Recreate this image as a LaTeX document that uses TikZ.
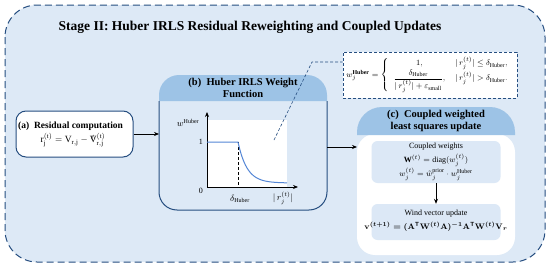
\documentclass[tikz,border=0pt]{standalone}
\usepackage{amsmath}
\usepackage{fontspec}
\setmainfont{Liberation Serif}
\usetikzlibrary{arrows.meta}
\definecolor{bgblue}{RGB}{221,233,246}
\definecolor{hdrblue}{RGB}{157,195,230}
\definecolor{edgeblue}{RGB}{38,78,128}
\definecolor{curveblue}{RGB}{84,134,214}
\definecolor{innerblue}{RGB}{220,232,246}
\begin{document}
\begin{tikzpicture}[x=1pt,y=-1pt,
  conn/.style={-{Stealth[length=5pt,width=4pt]},line width=0.7pt,black},
  abox/.style={draw=edgeblue,line width=1pt,fill=white,rounded corners=10pt,minimum width=117pt,minimum height=46pt,inner sep=0pt},
  hdrtext/.style={font=\fontsize{10.5}{11.5}\selectfont\bfseries,align=center,inner sep=0pt},
  smalltext/.style={font=\fontsize{8}{10}\selectfont,align=center,inner sep=0pt},
  innerbox/.style={fill=innerblue,rounded corners=6pt,minimum width=129pt,inner sep=0pt},
  ghost/.style={inner sep=0pt,outer sep=0pt}]
\useasboundingbox (0,0) rectangle (550,268);
% outer frame
\draw[edgeblue,line width=1pt,dash pattern=on 7pt off 4pt,fill=bgblue,rounded corners=32pt] (5,5) rectangle (545,262);
\node[font=\fontsize{13.5}{15}\selectfont\bfseries,inner sep=0pt] (title) at (250,27) {Stage II: Huber IRLS Residual Reweighting and Coupled Updates};
% box (a)
\node[abox] (a) at (74.5,134) {};
\node[font=\fontsize{9.5}{11}\selectfont\bfseries,inner sep=0pt,anchor=west] (alab) at (18,126) {(a)\ \ Residual computation};
\node[font=\fontsize{9.5}{11}\selectfont,inner sep=0pt] (aform) at (73,140) {$\mathrm{r_j^{(t)} = V_{r,j} - \hat{V}_{r,j}^{(t)}}$};
% box (b)
\node[ghost,minimum width=168pt,minimum height=135pt] (bbox) at (243,142.5) {};
\fill[hdrblue] (159,101) [rounded corners=20pt]-- (159,75) -- (327,75) [sharp corners]-- (327,101) -- cycle;
\draw[edgeblue,line width=1pt,rounded corners=18pt] (159,101) -- (159,210) -- (327,210) -- (327,101);
\node[hdrtext] (bhdr) at (243,88) {(b)\ \ Huber IRLS Weight\\Function};
% plot
\coordinate (o) at (207,187);
\fill[white] (207,120) rectangle (287,187);
\draw[-{Stealth[length=5pt,width=4pt]},line width=0.8pt] (o) -- (207,112);
\draw[-{Stealth[length=5pt,width=4pt]},line width=0.8pt] (o) -- (298,187);
\draw[densely dashed,line width=0.6pt] (238,142) -- (238,187);
\draw[curveblue,line width=1pt] (207,142) -- (238,142) -- plot[domain=238:287,samples=40,smooth] (\x,{183-41*exp(-(\x-238)/9)});
\node[smalltext,anchor=east] (one) at (203,142) {1};
\node[smalltext,anchor=east] (zero) at (203,191) {0};
\node[smalltext,font=\fontsize{9}{10}\selectfont] (wlab) at (188,123) {$w^{\mathrm{Huber}}$};
\node[smalltext,font=\fontsize{9}{10}\selectfont] (dlab) at (240,199) {$\delta_{\mathrm{Huber}}$};
\node[smalltext,font=\fontsize{9}{10}\selectfont] (rlab) at (283,198) {$|\,r_j^{(t)}|$};
% formula box
\node[draw=edgeblue,densely dashed,line width=0.6pt,fill=white,minimum width=174pt,minimum height=46pt,inner sep=0pt] (fbox) at (430,75) {};
\node[smalltext,font=\fontsize{8.5}{10}\selectfont] (form) at (430,75) {\renewcommand{\arraystretch}{1.25}$w_j^{\mathbf{Huber}} = \left\{\begin{array}{cl} 1, & |\,r_j^{(t)}| \le \delta_{\mathrm{Huber}}, \\ \dfrac{\delta_{\mathrm{Huber}}}{|\,r_j^{(t)}|+\varepsilon_{\mathrm{small}}}, & |\,r_j^{(t)}| > \delta_{\mathrm{Huber}}. \end{array}\right.$};
\coordinate (pt) at (274,140);
\coordinate (bend) at (312,62);
\draw[edgeblue,densely dashed,line width=0.6pt] (pt) -- (bend) -- (bend -| fbox.west);
% box (c)
\node[ghost,minimum width=158pt,minimum height=148pt] (cbox) at (436,181) {};
\fill[white,rounded corners=18pt] (357,134) -- (357,255) -- (515,255) -- (515,134) -- cycle;
\fill[hdrblue] (357,135) [rounded corners=25pt]-- (357,107) -- (515,107) [sharp corners]-- (515,135) -- cycle;
\node[hdrtext] (chdr) at (436,121) {(c)\ \ Coupled weighted\\least squares update};
\node[innerbox,minimum height=42pt] (cw) at (436,162) {};
\node[smalltext] (cw1) at (436,147) {Coupled weights};
\node[smalltext] (cw2) at (436,160) {$\mathbf{W}^{(t)} = \mathrm{diag}(w_j^{(t)})$};
\node[smalltext] (cw3) at (436,174) {$w_j^{(t)} = \tilde{w}_j^{\mathrm{prior}}\cdot w_j^{\mathrm{Huber}}$};
\node[innerbox,minimum height=36pt] (wv) at (436,222) {};
\node[smalltext] (wv1) at (436,214) {Wind vector update};
\node[smalltext] (wv2) at (436,227) {{\boldmath$\mathbf{v}^{(t+1)} = (\mathbf{A}^{\mathsf{T}}\mathbf{W}^{(t)}\mathbf{A})^{-1}\mathbf{A}^{\mathsf{T}}\mathbf{W}^{(t)}\mathbf{V}_{r}$}};
% connectors
\draw[conn] (a.east) -- (a.east -| bbox.west);
\draw[conn] (327,147) coordinate (bout) -- (bout -| cbox.west);
\draw[conn] (cw.south) -- (wv.north);
\end{tikzpicture}
\end{document}
